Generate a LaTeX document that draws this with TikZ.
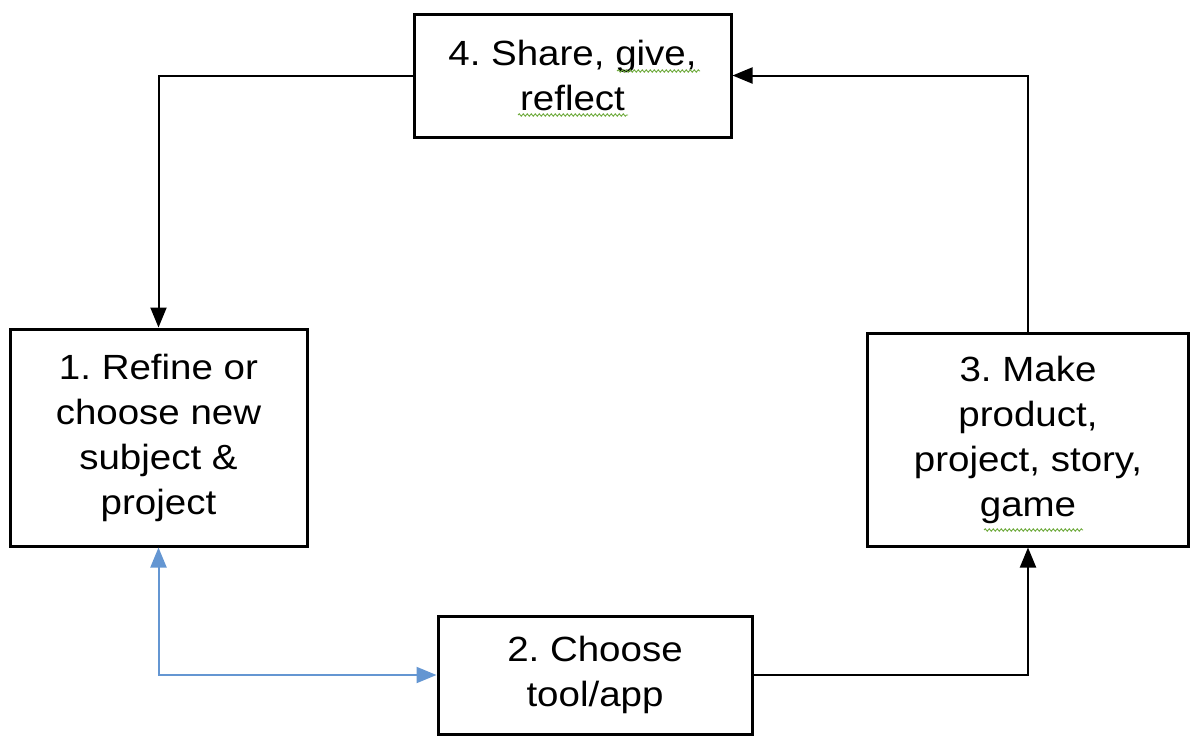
\documentclass[tikz,border=0pt]{standalone}
\usepackage{fontspec}
\setmainfont{Liberation Sans}[FakeStretch=1.1]
\usetikzlibrary{arrows.meta,decorations.pathmorphing}
\definecolor{arrowblue}{RGB}{100,150,210}
\definecolor{squig}{RGB}{110,170,60}
\begin{document}
\frenchspacing
\begin{tikzpicture}[x=1pt,y=-1pt,
  stepbox/.style={draw=black, line width=3pt, align=center, inner sep=0pt,
    font=\fontsize{35}{45}\selectfont},
  arr/.style={draw=black, line width=2pt, -{Triangle[length=20pt,width=16pt]}},
  barr/.style={draw=arrowblue, line width=2pt, {Triangle[length=20pt,width=16pt]}-{Triangle[length=20pt,width=16pt]}},
  squiggle/.style={draw=squig, line width=0.9pt, decorate, decoration={snake, amplitude=1.2pt, segment length=4pt}}
]
\useasboundingbox (0,0) rectangle (1191,737);
\node[stepbox, minimum width=317pt, minimum height=123pt] (b4) at (572.5,75.5) {4. Share, give,\\reflect};
\node[stepbox, minimum width=297pt, minimum height=217pt] (b1) at (158.5,437.5) {1. Refine or\\choose new\\subject \&\\project};
\node[stepbox, minimum width=321pt, minimum height=213pt] (b3) at (1028,439.5) {3. Make\\product,\\project, story,\\game};
\node[stepbox, minimum width=314pt, minimum height=118pt] (b2) at (595,675) {2. Choose\\tool/app};
\draw[arr] (b4.west) -| (b1.north);
\draw[arr] (b3.north) |- (b4.east);
\draw[arr] (b2.east) -| (b3.south);
\draw[barr] (b1.south) |- (b2.west);
\draw[squiggle] (617,71) -- (700,71);
\draw[squiggle] (518,115) -- (628,115);
\draw[squiggle] (984,530) -- (1083,530);
\end{tikzpicture}
\end{document}
